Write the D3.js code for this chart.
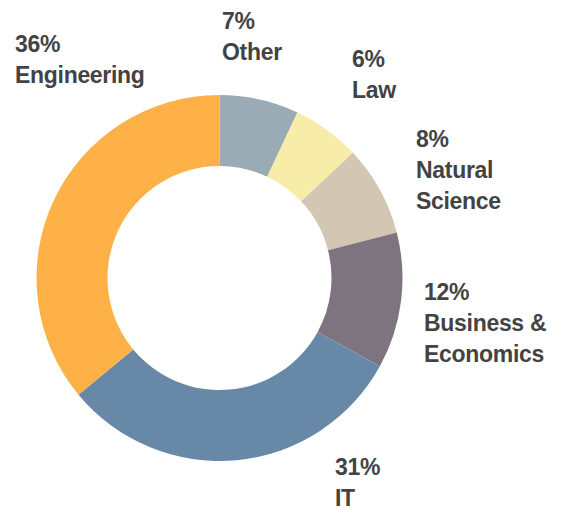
<!DOCTYPE html>
<html>
<head>
<meta charset="utf-8">
<script src="https://cdn.jsdelivr.net/npm/d3@7"></script>
<style>
  html, body { margin: 0; padding: 0; background: #fff; }
  svg { display: block; }
  text { font-family: "Liberation Sans", Arial, sans-serif; font-weight: bold; fill: #434343; }
</style>
</head>
<body>
<svg id="chart" width="563" height="509"></svg>
<script>
// Data
const categories = ["Other", "Law", "Natural Science", "Business & Economics", "IT", "Engineering"];
const values = [7, 6, 8, 12, 31, 36];
const labelLines = [["Other"], ["Law"], ["Natural", "Science"], ["Business &", "Economics"], ["IT"], ["Engineering"]];
const colors = ["#9aabb5", "#f8eda8", "#d3c6b3", "#7d7480", "#6888a8", "#fdb147"];

// Layout (not data)
const W = 563, H = 509;
const cx = 219.5, cy = 278;
const outerR = 183, innerR = 112;
const lineH = 31;
const labelPos = [
  [222, 29], [352, 67], [416, 147], [424, 300], [335, 475], [15, 52]
];

const svg = d3.select("#chart");
const g = svg.append("g").attr("transform", `translate(${cx},${cy})`);

const pie = d3.pie().sort(null).value(d => d.value);
const arc = d3.arc().innerRadius(innerR).outerRadius(outerR);
const color = d3.scaleOrdinal().domain(categories).range(colors);

const data = categories.map((c, i) => ({ cat: c, value: values[i], lines: labelLines[i], pos: labelPos[i] }));

g.selectAll("path")
  .data(pie(data))
  .join("path")
  .attr("d", arc)
  .attr("fill", d => color(d.data.cat));

const labels = svg.selectAll("text.lbl")
  .data(data)
  .join("text")
  .attr("class", "lbl")
  .attr("font-size", 23)
  .attr("letter-spacing", -0.3)
  .attr("x", d => d.pos[0])
  .attr("y", d => d.pos[1]);

labels.each(function(d) {
  const t = d3.select(this);
  const lines = [d.value + "%"].concat(d.lines);
  lines.forEach((ln, i) => {
    t.append("tspan").attr("x", d.pos[0]).attr("y", d.pos[1] + i * lineH).text(ln);
  });
});
</script>
</body>
</html>
